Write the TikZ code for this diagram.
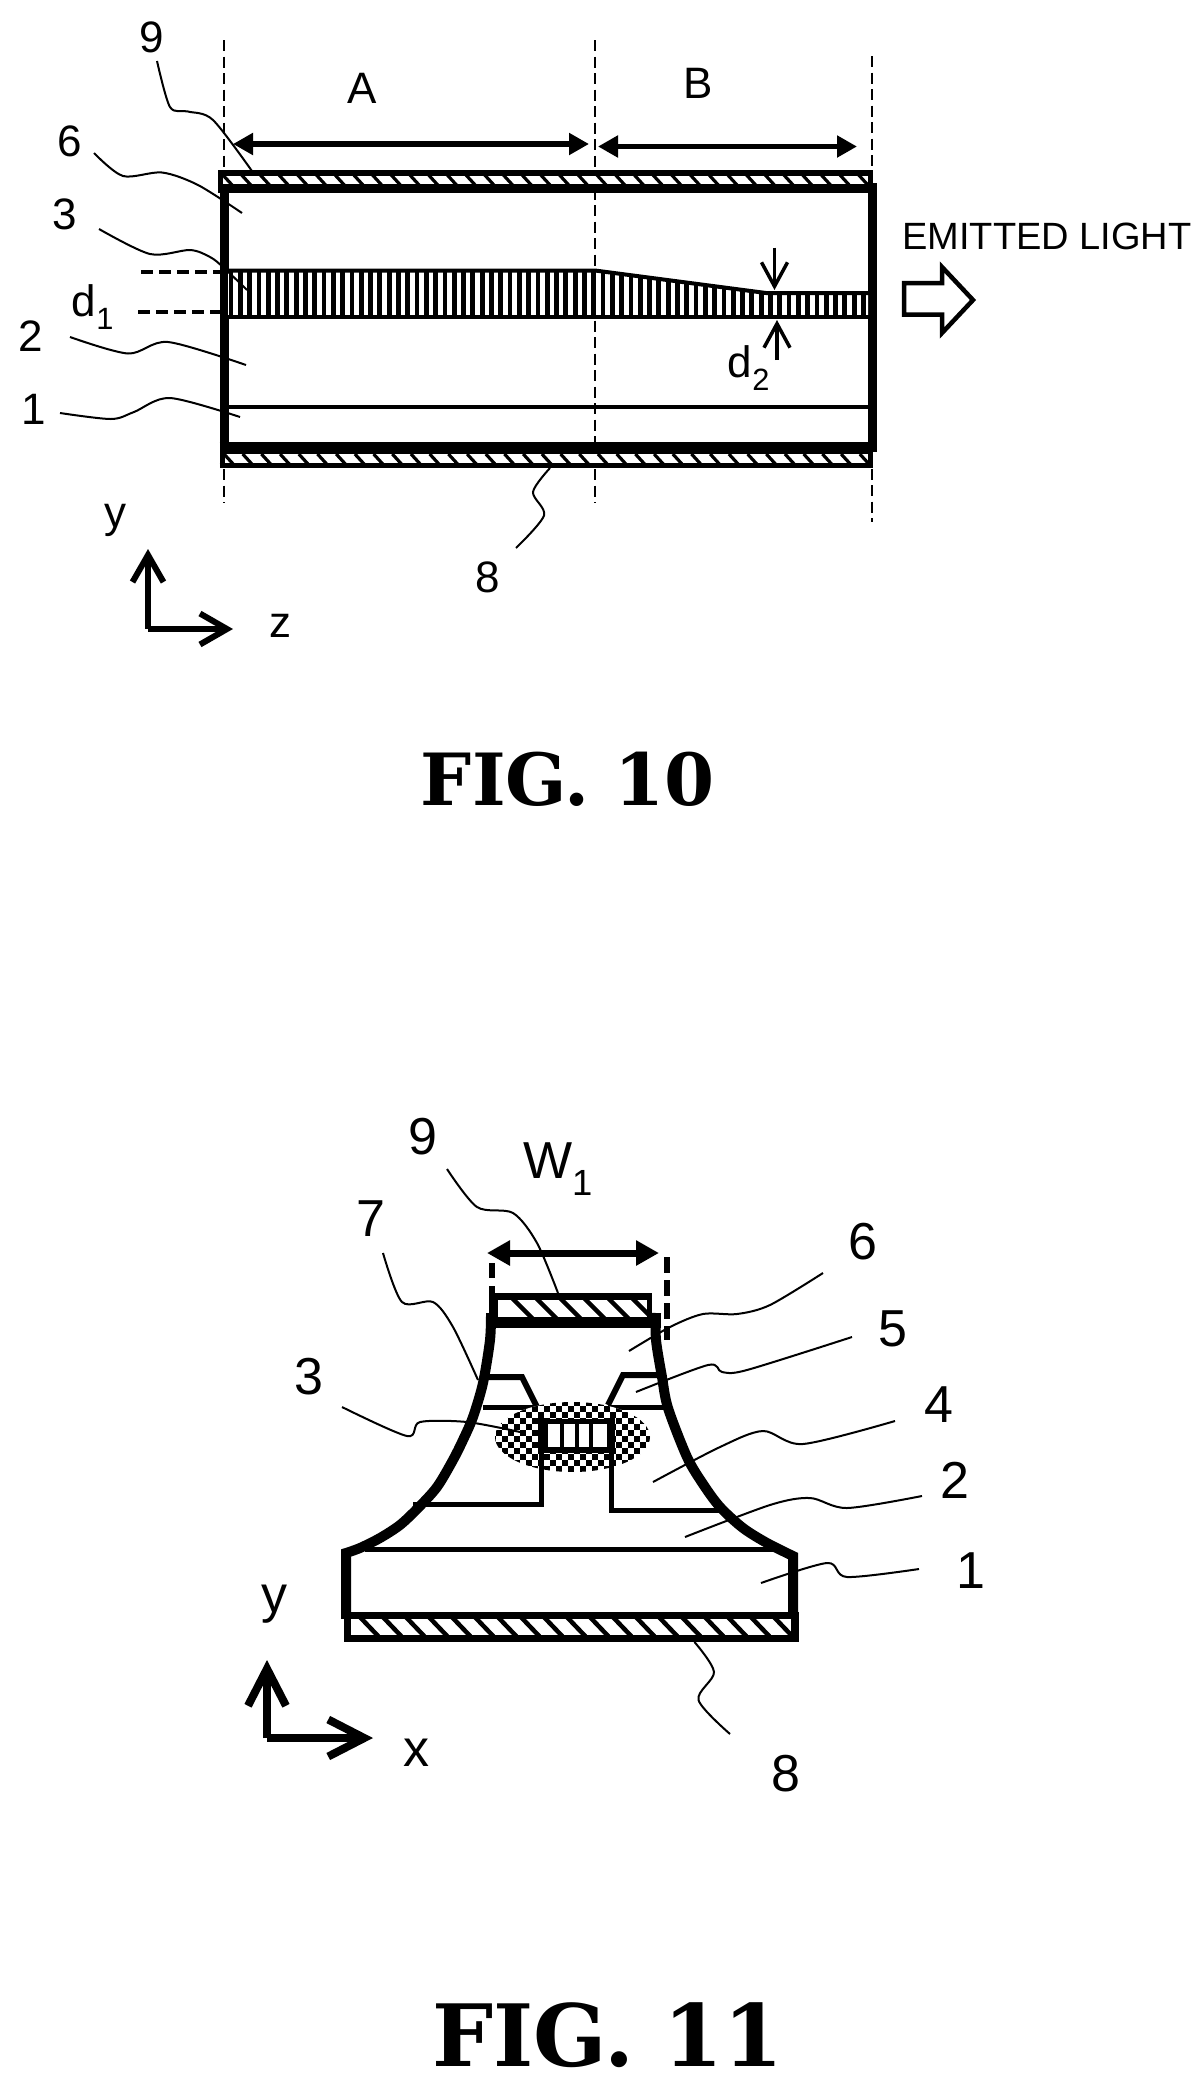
\documentclass[tikz,border=0pt]{standalone}
\usepackage{fontspec}
\setmainfont{Liberation Sans}
\newfontfamily\figfont{DejaVu Serif}
\usepackage{tikz}
\usetikzlibrary{arrows.meta}

\begin{document}
\begin{tikzpicture}[
            x = 1pt, y = -1pt, % picture is laid out in reference pixels
            > = {Triangle[length=20pt,width=21pt]}, % arrow head style
            line join = miter
            ]

        \tikzstyle{lab}=[inner sep = 0pt, font = \fontsize{44}{50}\selectfont]
        \tikzstyle{bigLab}=[inner sep = 0pt, font = \fontsize{52}{60}\selectfont]
        \tikzstyle{leader}=[line width = 2pt]
        \tikzstyle{guide}=[line width = 1.6pt, dash pattern = on 11pt off 5.5pt]
        \tikzstyle{sidedash}=[line width = 4pt, dash pattern = on 12pt off 6pt]
        \tikzstyle{dimline}=[line width = 5.5pt, <->]
        \tikzstyle{wall}=[line width = 9pt]
        \tikzstyle{axisline}=[line width = 6pt, -{Straight Barb[length=27pt,width=31pt]}]
        \tikzstyle{pinch}=[line width = 3.5pt, -{Straight Barb[length=24pt,width=26pt]}]

        \useasboundingbox (0,0) rectangle (1201,2089);

	% FIG. 10 labels
	\node[lab] (L9) at (152,37) {9};
	\node[lab] (L6) at (70,141) {6};
	\node[lab] (L3) at (65,214) {3};
	\node[lab] (D1) at (93,307) {d\textsubscript{1}};
	\node[lab] (L2) at (31,336) {2};
	\node[lab] (L1) at (34,409) {1};
	\node[lab] (L8) at (488,577) {8};
	\node[lab] (A) at (362,88) {A};
	\node[lab] (B) at (698,83) {B};
	\node[lab] (D2) at (749,368) {d\textsubscript{2}};
	\node[lab] (Y) at (115,520) {y};
	\node[lab] (Z) at (280,626) {z};
	\node[inner sep = 0pt, font = \fontsize{38}{44}\selectfont] (EM) at (1047,236) {EMITTED LIGHT};
	\node[inner sep = 0pt, font = \figfont\bfseries\fontsize{72}{80}\selectfont] (F10) at (568,779) {FIG. 10};

	% guide lines
	\coordinate (G1a) at (224,40);
	\coordinate (G1b) at (224,503);
	\coordinate (G2a) at (595,40);
	\coordinate (G2b) at (595,503);
	\coordinate (G3a) at (872,56);
	\coordinate (G3b) at (872,522);
	\draw[guide] (G1a) -- (G1b);
	\draw[guide] (G2a) -- (G2b);
	\draw[guide] (G3a) -- (G3b);

	% top electrode
	\fill[white] (222,173) rectangle (870,188);
	\begin{scope}
		\clip (222,173) rectangle (870,188);
		\foreach \x in {222,240.7,...,870}
			\draw[line width = 3.2pt] (\x,174) -- (\x+11,186);
	\end{scope}
	\draw[line width = 5.5pt] (218,173) -- (872.5,173);
	\draw[line width = 9pt] (218,188) -- (872.5,188);
	\draw[line width = 5pt] (220.5,173) -- (220.5,188);
	\draw[line width = 5pt] (870,173) -- (870,188);

	% bottom electrode
	\fill[white] (222,448) rectangle (870,466);
	\begin{scope}
		\clip (222,448) rectangle (870,466);
		\foreach \x in {224,242.7,...,870}
			\draw[line width = 3.2pt] (\x,454) -- (\x+11,466);
	\end{scope}
	\draw[line width = 12pt] (219.5,448) -- (872.5,448);
	\draw[line width = 5pt] (219.5,465.5) -- (872.5,465.5);
	\draw[line width = 5pt] (222,448) -- (222,466);
	\draw[line width = 5pt] (870,448) -- (870,466);

	% walls and layer line
	\draw[wall] (224,189) -- (224,446);
	\draw[wall] (872,183) -- (872,452);
	\draw[line width = 3.5pt] (228,407) -- (868,407);

	% active layer
	\fill[white] (228,270) -- (595,270) -- (766,292) -- (868,292) -- (868,317) -- (228,317) -- cycle;
	\begin{scope}
		\clip (228,270) -- (595,270) -- (766,292) -- (868,292) -- (868,317) -- (228,317) -- cycle;
		\foreach \x in {231,240.3,...,868}
			\draw[line width = 4.8pt] (\x,265) -- (\x,320);
	\end{scope}
	\draw[line width = 4pt] (224,270.5) -- (595,270.5) -- (766,293) -- (872,293);
	\draw[line width = 4pt] (224,317) -- (872,317);

	% thickness marks
	\draw[sidedash] (141,271.5) -- (220,271.5);
	\draw[sidedash] (138,312) -- (220,312);
	\coordinate (P1) at (774.5,247.5);
	\coordinate (P2) at (774.5,290);
	\coordinate (P3) at (777,360);
	\coordinate (P4) at (777,320);
	\draw[pinch] (P1) -- (P2);
	\draw[pinch] (P3) -- (P4);

	% region arrows
	\coordinate (A1) at (233,144);
	\coordinate (A2) at (589,144);
	\coordinate (B1) at (598,146.5);
	\coordinate (B2) at (857,146.5);
	\draw[dimline] (A1) -- (A2);
	\draw[dimline] (B1) -- (B2);

	% light arrow
	\draw[line width = 4.5pt] (904,283) -- (942,283) -- (942,267) -- (973,300) -- (942,333) -- (942,314.5) -- (904,314.5) -- cycle;

	% axes
	\coordinate (O1) at (148,629);
	\coordinate (O1y) at (148,549);
	\coordinate (O1z) at (233,629);
	\draw[axisline] (O1) -- (O1y);
	\draw[axisline] (O1) -- (O1z);

	% leaders
	\draw[leader] plot[smooth] coordinates {(157,61) (170,107) (188,111.5) (213,120) (253,172.5)};
	\draw[leader] plot[smooth] coordinates {(94,153) (123,176) (162,172.5) (198,185) (242,213)};
	\draw[leader] plot[smooth] coordinates {(99,229) (150,254) (190,250) (210,257) (223,267) (247,290)};
	\draw[leader] plot[smooth] coordinates {(70,337) (128,353.5) (168,342) (246,365)};
	\draw[leader] plot[smooth] coordinates {(60,413) (111,419) (134,412) (170,398) (240,417)};
	\draw[leader] plot[smooth] coordinates {(516,548) (544,515.5) (533,492) (550,468)};


	% FIG. 11 labels
	\node[bigLab] (M9) at (423,1137) {9};
	\node[bigLab] (W) at (558,1169) {W\textsubscript{1}};
	\node[bigLab] (M7) at (371,1219) {7};
	\node[bigLab] (M3) at (309,1377) {3};
	\node[bigLab] (M6) at (863,1242) {6};
	\node[bigLab] (M5) at (893,1329) {5};
	\node[bigLab] (M4) at (939,1405) {4};
	\node[bigLab] (M2) at (955,1480) {2};
	\node[bigLab] (M1) at (971,1571) {1};
	\node[bigLab] (M8) at (786,1774) {8};
	\node[bigLab] (Y2) at (274,1604) {y};
	\node[bigLab] (X) at (416,1753) {x};
	\node[inner sep = 0pt, font = \figfont\bfseries\fontsize{86}{94}\selectfont] (F11) at (608,2035) {FIG. 11};

	% width marks
	\coordinate (W1) at (487,1253);
	\coordinate (W2) at (659,1253);
	\coordinate (S1a) at (492,1263);
	\coordinate (S1b) at (492,1293);
	\coordinate (S2a) at (667,1257);
	\coordinate (S2b) at (667,1340);
	\draw[line width = 6pt, dash pattern = on 15pt off 8pt] (S1a) -- (S1b);
	\draw[line width = 5.5pt, dash pattern = on 16pt off 7pt] (S2a) -- (S2b);
	\draw[line width = 7pt, {Triangle[length=23pt,width=24pt]}-{Triangle[length=23pt,width=24pt]}] (W1) -- (W2);

	% ridge electrode
	\begin{scope}
		\clip (493,1296) rectangle (650,1320);
		\foreach \x in {510,534,...,630}
			\draw[line width = 4.5pt] (\x,1296) -- (\x+24,1320);
	\end{scope}
	\draw[line width = 7pt] (489.5,1296.5) -- (651.5,1296.5);
	\draw[line width = 9pt] (493.5,1293) -- (493.5,1318);
	\draw[line width = 5pt] (649,1293) -- (649,1318);
	\draw[line width = 11pt] (487,1322.5) -- (661,1322.5);

	% inner layers
	\draw[line width = 6pt] (487,1377) -- (522,1377) -- (537,1407);
	\draw[line width = 6pt] (658,1375) -- (623,1375) -- (608,1405);
	\draw[line width = 5pt] (483,1407) -- (537,1407);
	\draw[line width = 5pt] (608,1407) -- (664,1407);
	\draw[line width = 5pt] (413,1504) -- (541.7,1504) -- (541.7,1470);
	\draw[line width = 5pt] (720,1510) -- (611.7,1510) -- (611.7,1470);
	\draw[line width = 5pt] (365,1549) -- (780,1549);

	% side walls
	\draw[line width = 10pt] plot[smooth] coordinates {(491,1313) (490,1340) (483,1383) (473,1417) (463,1440) (453,1460) (437,1487) (418,1508) (400,1525) (380,1538) (360,1548) (346,1553)} -- (346,1617);
	\draw[line width = 10pt] plot[smooth] coordinates {(656,1313) (656,1340) (662,1377) (668,1408) (687,1457) (703,1484) (720,1507) (743,1528) (767,1543) (793,1556)} -- (793,1617);

	% current spreading region
	\fill[white] (572.5,1437) ellipse [x radius = 77.5, y radius = 35];
	\begin{scope}
		\clip (572.5,1437) ellipse [x radius = 77.5, y radius = 35];
		\foreach \i in {0,...,27} {
			\foreach \j in {0,...,12} {
				\pgfmathparse{int(mod(\i+\j,2))}
				\ifnum\pgfmathresult=0
					\fill (490+6*\i,1400+6*\j) rectangle ++(6,6);
				\fi
			}
		}
	\end{scope}

	% active core
	\fill[white] (541,1421) rectangle (611,1450);
	\draw[line width = 5pt] (538,1421) -- (615,1421);
	\draw[line width = 6pt] (538,1450) -- (615,1450);
	\draw[line width = 10pt] (543,1418) -- (543,1453);
	\draw[line width = 8pt] (611,1418) -- (611,1453);
	\foreach \x in {562,577,591}
		\draw[line width = 4.5pt] (\x,1421) -- (\x,1450);
	\draw[line width = 5pt] (541.7,1450) -- (541.7,1472);
	\draw[line width = 5pt] (611.7,1450) -- (611.7,1472);

	% substrate electrode
	\fill[white] (345,1615) rectangle (798,1638);
	\begin{scope}
		\clip (345,1615) rectangle (798,1638);
		\foreach \x in {358,381,...,800}
			\draw[line width = 4.5pt] (\x,1615) -- (\x+22,1638);
	\end{scope}
	\draw[line width = 7pt] (341,1615.5) -- (799,1615.5);
	\draw[line width = 7pt] (344,1638.5) -- (799,1638.5);
	\draw[line width = 7pt] (347.5,1612) -- (347.5,1642);
	\draw[line width = 8pt] (795,1612) -- (795,1642);

	% axes
	\coordinate (O2) at (267,1738);
	\coordinate (O2y) at (267,1660);
	\coordinate (O2x) at (373,1738);
	\draw[line width = 8pt, -{Straight Barb[length=37pt,width=38pt]}] (O2) -- (O2y);
	\draw[line width = 8pt, -{Straight Barb[length=36pt,width=37pt]}] (O2) -- (O2x);

	% leaders
	\draw[leader] plot[smooth] coordinates {(447,1169) (477,1207) (513,1213) (537,1243) (558,1293)};
	\draw[leader] plot[smooth] coordinates {(383,1253) (402,1302) (433,1302) (453,1327) (478,1380)};
	\draw[leader] plot[smooth] coordinates {(342,1407) (407,1436) (420,1422) (467,1422) (520,1432)};
	\draw[leader] plot[smooth] coordinates {(629,1351) (670,1327) (703,1314) (737,1314) (770,1305) (823,1273)};
	\draw[leader] plot[smooth] coordinates {(636,1392) (708,1365) (722,1372) (747,1370) (852,1337)};
	\draw[leader] plot[smooth] coordinates {(653,1482) (720,1447) (763,1431) (803,1444) (895,1421)};
	\draw[leader] plot[smooth] coordinates {(685,1537) (770,1505) (810,1498) (847,1508) (922,1496)};
	\draw[leader] plot[smooth] coordinates {(761,1583) (827,1563) (847,1577) (919,1569)};
	\draw[leader] plot[smooth] coordinates {(694.5,1642) (714,1672) (698.5,1700) (730,1734)};

\end{tikzpicture}
\end{document}
